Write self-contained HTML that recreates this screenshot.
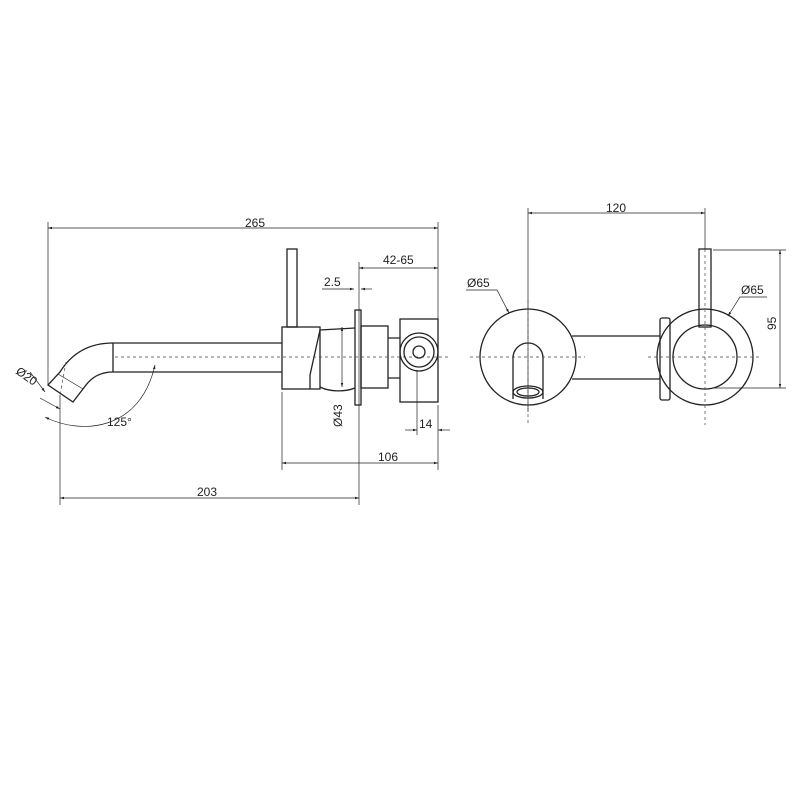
<!DOCTYPE html>
<html><head><style>body{margin:0;background:#fff}svg{display:block}text{font-family:"Liberation Sans",sans-serif;font-size:12px;fill:#222}</style></head><body>
<svg width="800" height="800" viewBox="0 0 800 800" xmlns="http://www.w3.org/2000/svg">
<defs><marker id="a" viewBox="0 0 10 10" refX="10" refY="5" markerWidth="6" markerHeight="6" orient="auto-start-reverse"><path d="M0,2 L10,5 L0,8z" fill="#222"/></marker></defs>
<g stroke="#222" fill="none" stroke-width="1.3">
<path d="M113,343 L282,343 M113,372 L282,372 M113,343 V372"/>
<path d="M113,343 Q78,343 60,372 L48,385 L73,402 L86,385 Q96,372 113,372"/>
<path d="M58,374 L83,389" stroke-width="0.6"/>
<rect x="287" y="249" width="10" height="78"/>
<rect x="282" y="327" width="38" height="62"/>
<path d="M320,330 L355,328 M320,387 C330,392 345,392 355,388 M320,330 L310,375 L310,389"/>
<rect x="355" y="310" width="6" height="95"/>
<rect x="361" y="326" width="27" height="62"/>
<path d="M388,338 H400 M388,378 H400"/>
<rect x="400" y="319" width="38" height="83"/>
<circle cx="419" cy="352" r="19"/><circle cx="419" cy="352" r="15"/><circle cx="419" cy="352" r="6"/>
<circle cx="528" cy="357" r="48"/>
<path d="M513,399 V358 A15,15 0 0 1 543,358 V399"/>
<ellipse cx="528" cy="392" rx="15" ry="6"/><ellipse cx="528" cy="392" rx="11" ry="4"/>
<path d="M572,336 H660 M572,379 H660"/>
<rect x="660" y="318" width="10" height="82" rx="2"/>
<circle cx="705" cy="357" r="48"/>
<circle cx="705" cy="357" r="32"/>
<rect x="699" y="249" width="12" height="78"/>
</g>
<g stroke="#222" stroke-width="0.7" fill="none">
<path d="M48,222 V385 M438,222 V350 M60,395 V505 M359,290 V505 M282,392 V470 M438,405 V470 M417,370 V435 M359,262 V310 M528,208 V412 M705,208 V249 M713,250 H786 M713,388 H786"/>
<path d="M48,228 H438" marker-start="url(#a)" marker-end="url(#a)"/>
<path d="M359,268 H438" marker-start="url(#a)" marker-end="url(#a)"/>
<path d="M322,289 H354" marker-end="url(#a)"/><path d="M372,289 H361" marker-end="url(#a)"/>
<path d="M342,327 V387" marker-start="url(#a)" marker-end="url(#a)"/>
<path d="M405,430 H417" marker-end="url(#a)"/><path d="M450,430 H438" marker-end="url(#a)"/>
<path d="M282,463 H438" marker-start="url(#a)" marker-end="url(#a)"/>
<path d="M60,498 H359" marker-start="url(#a)" marker-end="url(#a)"/>
<path d="M528,213 H705" marker-start="url(#a)" marker-end="url(#a)"/>
<path d="M780,250 V388" marker-start="url(#a)" marker-end="url(#a)"/>
<path d="M40,398 L60,409" marker-end="url(#a)"/><path d="M30,372 L45,392" marker-end="url(#a)"/>
<path d="M45,417 C80,435 140,432 155,365" marker-start="url(#a)" marker-end="url(#a)"/>
<path d="M466,290 H497 L509,313" marker-end="url(#a)"/>
<path d="M767,297 H740 L728,316" marker-end="url(#a)"/>
</g>
<g stroke="#444" stroke-width="0.7" stroke-dasharray="3,3">
<path d="M115,357 H448 M470,357 H585 M648,357 H760 M528,300 V425 M705,249 V425 M66,362 L60,395"/>
</g>
<text x="245" y="227">265</text>
<text x="383" y="264">42-65</text>
<text x="324" y="286">2.5</text>
<text x="378" y="461">106</text>
<text x="197" y="496">203</text>
<text x="419" y="428">14</text>
<text x="107" y="426">125°</text>
<text x="467" y="287">Ø65</text>
<text x="741" y="294">Ø65</text>
<text x="606" y="212">120</text>
<text transform="translate(342,427) rotate(-90)">Ø43</text>
<text transform="translate(776,330) rotate(-90)">95</text>
<text transform="translate(15,373) rotate(35)">Ø20</text>
</svg>
</body></html>
